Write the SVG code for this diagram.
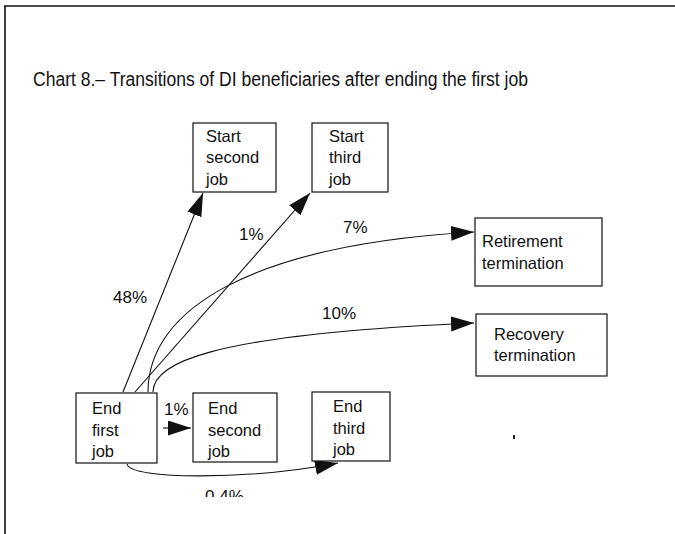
<svg xmlns="http://www.w3.org/2000/svg" width="675" height="534" viewBox="0 0 675 534">
<defs>
<style>
.frame{stroke:#111;stroke-width:1.6;fill:none}
.box{fill:#fff;stroke:#111;stroke-width:1.2}
.t{font-family:"Liberation Sans",Arial,sans-serif;font-size:16.5px;fill:#111}
.lbl{font-family:"Liberation Sans",Arial,sans-serif;font-size:17px;fill:#111}
.title{font-family:"Liberation Sans",Arial,sans-serif;font-size:20px;fill:#111}
.edge{fill:none;stroke:#111;stroke-width:1.1}
</style>
<marker id="ah" markerUnits="userSpaceOnUse" markerWidth="26" markerHeight="18" refX="23" refY="7.5" orient="auto">
<path d="M0,0 L23,7.5 L0,15 Z" fill="#111"/>
</marker>
<clipPath id="cut"><rect x="0" y="0" width="675" height="497"/></clipPath>
</defs>
<rect width="675" height="534" fill="#fff"/>
<path class="frame" d="M4,6 H675 M5,6 V534"/>
<text class="title" x="33" y="86" textLength="495" lengthAdjust="spacingAndGlyphs">Chart 8.– Transitions of DI beneficiaries after ending the first job</text>

<g id="connectors">
<path class="edge" marker-end="url(#ah)" d="M123,392 L203,193"/>
<path class="edge" marker-end="url(#ah)" d="M135,392 L310,193"/>
<path class="edge" marker-end="url(#ah)" d="M148,392 C148,310 250,245 474,232"/>
<path class="edge" marker-end="url(#ah)" d="M153,392 C153,365 200,335 474,323"/>
<path class="edge" marker-end="url(#ah)" d="M163,428 L191,428"/>
<path class="edge" marker-end="url(#ah)" d="M127,464 C130,480 250,480 338,463"/>
<text class="lbl" x="113" y="303">48%</text>
<text class="lbl" x="239" y="240">1%</text>
<text class="lbl" x="343" y="233">7%</text>
<text class="lbl" x="322" y="319">10%</text>
<text class="lbl" x="164" y="415">1%</text>
<text class="lbl" x="205" y="502" clip-path="url(#cut)">0.4%</text>
</g>

<g id="start-second">
<rect class="box" x="193" y="123" width="83" height="69"/>
<text class="t" x="206" y="142">Start</text>
<text class="t" x="206" y="163">second</text>
<text class="t" x="206" y="185">job</text>
</g>
<g id="start-third">
<rect class="box" x="312" y="123" width="76" height="69"/>
<text class="t" x="329" y="142">Start</text>
<text class="t" x="329" y="163">third</text>
<text class="t" x="329" y="185">job</text>
</g>
<g id="retirement">
<rect class="box" x="475" y="218" width="127" height="68"/>
<text class="t" x="482" y="247">Retirement</text>
<text class="t" x="482" y="269">termination</text>
</g>
<g id="recovery">
<rect class="box" x="476" y="314" width="131" height="62"/>
<text class="t" x="494" y="340">Recovery</text>
<text class="t" x="494" y="361">termination</text>
</g>
<g id="end-first">
<rect class="box" x="76" y="393" width="81" height="70"/>
<text class="t" x="92" y="414">End</text>
<text class="t" x="92" y="436">first</text>
<text class="t" x="92" y="457">job</text>
</g>
<g id="end-second">
<rect class="box" x="193" y="393" width="84" height="69"/>
<text class="t" x="208" y="414">End</text>
<text class="t" x="208" y="436">second</text>
<text class="t" x="208" y="457">job</text>
</g>
<g id="end-third">
<rect class="box" x="312" y="392" width="78" height="69"/>
<text class="t" x="333" y="412">End</text>
<text class="t" x="333" y="434">third</text>
<text class="t" x="333" y="455">job</text>
</g>
<rect x="513" y="435" width="2" height="4" fill="#222"/>
</svg>
